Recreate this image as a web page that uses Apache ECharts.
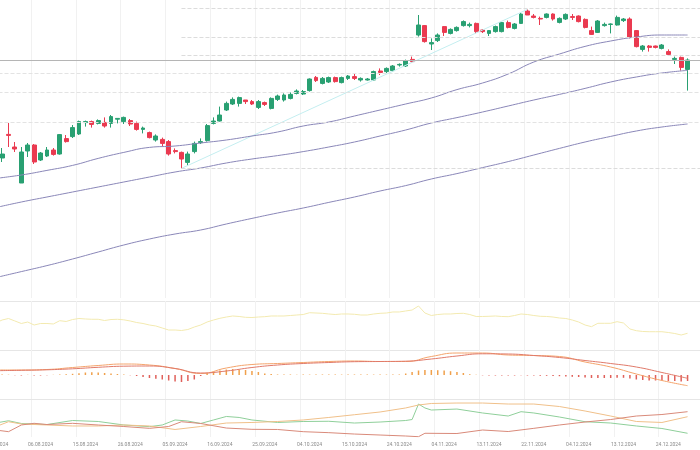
<!DOCTYPE html>
<html><head><meta charset="utf-8">
<script src="https://cdn.jsdelivr.net/npm/echarts@6/dist/echarts.min.js"></script>
<style>html,body{margin:0;padding:0;background:#fff}#c{width:700px;height:450px}</style>
</head><body><div id="c"></div>
<script>
const dates = ["26.07.2024","29.07.2024","30.07.2024","31.07.2024",
"01.08.2024","02.08.2024","05.08.2024","06.08.2024","07.08.2024","08.08.2024","09.08.2024","12.08.2024","13.08.2024","14.08.2024","15.08.2024","16.08.2024","19.08.2024","20.08.2024","21.08.2024","22.08.2024","23.08.2024","26.08.2024","27.08.2024","28.08.2024","29.08.2024","30.08.2024",
"03.09.2024","04.09.2024","05.09.2024","06.09.2024","09.09.2024","10.09.2024","11.09.2024","12.09.2024","13.09.2024","16.09.2024","17.09.2024","18.09.2024","19.09.2024","20.09.2024","23.09.2024","24.09.2024","25.09.2024","26.09.2024","27.09.2024","30.09.2024",
"01.10.2024","02.10.2024","03.10.2024","04.10.2024","07.10.2024","08.10.2024","09.10.2024","10.10.2024","11.10.2024","14.10.2024","15.10.2024","16.10.2024","17.10.2024","18.10.2024","21.10.2024","22.10.2024","23.10.2024","24.10.2024","25.10.2024","28.10.2024","29.10.2024","30.10.2024","31.10.2024",
"01.11.2024","04.11.2024","05.11.2024","06.11.2024","07.11.2024","08.11.2024","11.11.2024","12.11.2024","13.11.2024","14.11.2024","15.11.2024","18.11.2024","19.11.2024","20.11.2024","21.11.2024","22.11.2024","25.11.2024","26.11.2024","27.11.2024","29.11.2024",
"02.12.2024","03.12.2024","04.12.2024","05.12.2024","06.12.2024","09.12.2024","10.12.2024","11.12.2024","12.12.2024","13.12.2024","16.12.2024","17.12.2024","18.12.2024","19.12.2024","20.12.2024","23.12.2024","24.12.2024","26.12.2024","27.12.2024","30.12.2024",
"31.12.2024","02.01.2025","03.01.2025","06.01.2025"];

// [open, close, low, high]
const candles = [
[221,223,220,224],[221,223,219,226],[232.8,232.3,226.5,238.5],[226.5,225.5,224,229],
[208.5,224,208.5,226.5],[224.5,227.5,221.5,228.5],[227.5,219,218,228],[220,223.5,219.5,224],
[222,225,221.5,226.5],[225,222.8,222.2,226],[223,232.7,222.7,233],[230.7,229.2,228.7,232.5],
[231.7,236.2,231,237.5],[233,239.2,232.5,239.7],[238.7,239.2,236.7,239.7],[239.2,237.8,236.2,239.7],
[238.3,239.7,237.8,240.3],[238.8,237,236.2,241.3],[238.3,241.7,236.2,242.5],[240.4,240.8,238.3,240.8],
[239.2,241.3,238,241.7],[239.7,238,237,240.5],[238.3,235.3,234.7,239.2],[235.3,236,233.3,236.7],
[233.7,231.2,230.8,234.2],[230,232,229.2,232.8],[230.3,228.3,226.7,231.2],[229.2,223,222.2,230],
[224.7,224.2,223.3,225.8],[223.8,220.5,215.8,224.2],[218.8,223,217.2,224.2],[224.2,228.3,223.3,229.2],
[228.7,229.2,228,230.8],[229.7,237.2,229.2,238],[238.3,239.5,237.8,241.3],[239.5,242.5,239.2,246.7],
[245,248.3,244.5,249.2],[248,250.3,247.5,251.3],[248.3,251.2,246.7,251.7],[250,249.2,248,250],
[249.2,248,247.5,250],[246.3,249.2,245.5,250],[248.7,247.8,247,249.2],[245.8,250.8,245.3,251.3],
[250.3,252,249.5,252.7],[250,252.5,249.2,253.3],[250.8,252.8,250.3,254],[253.3,254.5,252.8,255.3],
[253,254.2,252.5,255],[254.7,260.5,254.2,260.8],[261.3,259.7,259,262],[258.3,260.8,257.8,261.5],
[259,261.2,258.5,261.7],[261.2,259.2,258.7,261.7],[258.7,261.2,258.3,261.7],[260.8,262,260,262.5],
[261.7,260.8,260,263],[260,260.8,259.2,261.3],[260,260.5,259.7,261],[260,264.2,259.5,264.7],
[264.5,263.8,262.5,265.8],[264.2,265.8,263.5,266.3],[264.7,267,264,267.5],[267.5,267.8,266.7,268.3],
[267,269.7,266.5,270.2],[270.3,269.2,268.7,271.7],[282.5,287.5,281.7,292.5],[287.2,279.2,278.7,287.5],
[278,278.7,275,280.8],[279.7,282.5,279,283.3],[286.7,283.8,282,287],[283.3,285.3,282.8,285.8],
[284.7,286.3,284.2,286.8],[287.2,289.2,286.7,289.8],[287.2,287.8,286.3,288.7],[288.3,284.2,283.3,288.7],
[285,284.2,283.5,285.5],[283.3,284.7,282,285],[284.2,286.7,283.7,287.2],[284.2,288.7,283.8,289],
[288.7,286.3,285.8,289.7],[285.8,288,285.3,288.5],[288.3,293,288,293.7],[294.5,292.5,292.5,295.3],
[292,291.3,290.8,293],[290.8,290.5,287.5,291.7],[291.3,293,290.8,293.3],[293,290.5,289.7,293.3],
[288.8,290.8,288.3,291.3],[290.5,292.8,290,293.3],[291.7,291.3,290,293],[292,289.2,288.8,292.3],
[290.3,286.3,285.8,290.8],[284.7,282.8,282.5,286.7],[283.8,289.5,283.5,290],[287.2,287.8,286.7,288.7],
[287.8,288,283.3,288.3],[287.5,291.3,287.2,292.2],[289.7,290.5,289,291],[290.5,281.3,280.8,291.3],
[284.7,276.7,276.3,285],[275.3,277,274.2,277.5],[277,276.3,274.2,277.5],[277,276.3,275.8,277.2],
[275.8,277.5,275.3,278],[274.2,272.8,272,275.3],[270.3,270.8,268,271.7],[271.3,266.3,264.7,271.7],
[265.3,270,254.7,270.8]];

const maIdx  = [0,4,8,12,16,20,24,28,32,36,40,44,48,52,56,60,64,68,72,76,80,84,88,92,96,100,104,108];
const maFast = [210.8,212.5,214.8,217.3,220.8,223.8,226.3,227,228.5,230,232,234,237,239,242,245,248,251,255.2,258.5,263,269,273,276.8,279.5,281.5,282.5,282.5];
const maMid  = [196.2,199,201.5,204,206.5,209,211.5,214,216,218.5,220.5,222.2,224.2,226.5,229,232,235,238.5,241.2,244,247,250,252.8,255.8,259,261.5,263.5,264.8];
const maSlow = [161.2,164.2,167.2,170.5,174,177.5,180.5,183,185,188,190.8,193.5,196,198.8,201.5,204.5,207.2,210.5,213.2,216.2,219.2,222.5,225.8,229,231.8,234.5,236.5,238];

const trendPts = [[29,215.8],[83,295.3]];
const fibLevels = [296,281.5,272.5,216];
const fullDashed = [263.5,254,239];
const priceLine = 270;

const rsi = [55.1,61.2,64.3,59.2,54.1,57.1,51,54.1,54.1,53.1,59.8,58.2,62.2,64.3,63.3,62.7,62.7,60.2,62.2,62.7,61.6,59.2,56.1,54.1,51,49,44.9,40.8,40.8,39.8,41.8,46.9,51,57.1,61.2,64.7,67.3,69.4,68.4,66.7,66.3,67.3,68,69.4,69.4,69.4,70.4,71.4,72.4,76.1,75.5,74.9,73.5,72.4,73.5,73.5,72.9,71.4,71.4,73.5,74.9,75.5,77.6,77.6,79.6,81.6,89.8,75.5,70.4,72.4,73.5,73.5,74.5,74.9,72.4,68.4,68.4,68.8,69.4,68.4,68,70.4,73.5,72.4,70.4,68.8,68.4,67.3,65.3,64.3,61.2,57.1,51,47.6,54.5,54.5,54.5,57.8,55.1,42.9,39.4,37.8,37.3,37.3,37.3,35.7,33.7,30.6,34.1];

const macdIdx = maIdx;
const macdLine = [0.5,0.5,0.55,0.75,0.95,1.1,1.0,0.65,0.15,0.7,1.05,1.15,1.25,1.35,1.4,1.35,1.35,1.85,2.2,2.2,2.0,1.95,1.85,1.3,0.8,0.1,-0.55,-1.07];
const signalLine = [0.43,0.47,0.52,0.62,0.77,0.88,0.9,0.65,0.2,0.4,0.75,1.0,1.15,1.25,1.33,1.35,1.38,1.6,1.9,2.12,2.1,1.95,1.75,1.45,1.15,0.8,0.25,-0.33];
const hist = [0.05,0.05,0.03,-0.02,-0.05,0.02,-0.05,-0.05,-0.03,0.02,0.05,0.08,0.12,0.18,0.25,0.27,0.25,0.2,0.15,0.1,0.05,-0.03,-0.1,-0.2,-0.3,-0.38,-0.45,-0.55,-0.65,-0.7,-0.6,-0.45,-0.1,0.2,0.35,0.45,0.55,0.6,0.55,0.5,0.4,0.3,0.15,0.1,0.05,0.04,0.05,0.03,0.05,0.04,0.05,0.05,0.04,0.05,0.04,0.05,0.05,0.04,0.05,0.04,0.05,0.04,0.05,0.05,0.15,0.3,0.45,0.5,0.5,0.48,0.45,0.38,0.3,0.2,0.08,0.02,-0.03,-0.05,-0.05,-0.04,-0.05,-0.05,-0.03,-0.05,-0.06,-0.08,-0.08,-0.1,-0.12,-0.15,-0.18,-0.2,-0.25,-0.3,-0.3,-0.3,-0.3,-0.28,-0.28,-0.35,-0.45,-0.5,-0.55,-0.55,-0.55,-0.6,-0.6,-0.65,-0.6];

const plusDI = [[0,18.4],[2,21.4],[4,17.8],[8,16.4],[12,21.7],[16,20.4],[20,15.8],[24,13.6],[26,15.8],[28,22.4],[30,21],[32,17.8],[34,22.4],[36,27],[38,25.7],[40,22.4],[44,19.1],[48,20.4],[52,20.7],[56,18.4],[60,19.7],[64,21.7],[65,23],[66,43.4],[67,38.2],[68,35.5],[72,36.8],[76,31.6],[80,27.6],[82,33.3],[84,31.6],[88,26.3],[92,20.1],[96,18.4],[100,14.5],[104,11.2],[108,4.9]];
const adx = [[0,13.6],[2,20.1],[4,17.1],[8,15.8],[12,14.5],[16,14.5],[20,15.8],[24,14.5],[28,9.9],[32,13.8],[36,18.4],[40,19.1],[44,20.4],[48,22.4],[52,25.7],[56,29.3],[60,32.9],[64,38.2],[66,42.1],[68,44.1],[72,44.7],[76,44.7],[80,43.4],[84,43.4],[88,40.1],[92,34.2],[96,27.6],[100,20.4],[104,19.1],[108,26.7]];
const minusDI = [[0,9.2],[2,7],[4,15.8],[6,18],[8,16.4],[12,18],[16,15.8],[20,13.8],[24,11.4],[27,13.8],[29,20.1],[32,17.8],[36,11.8],[40,10.1],[44,9.9],[48,7],[52,5.7],[56,3.9],[60,2.6],[64,1.3],[66,0.4],[67,4.9],[72,4.6],[76,9.2],[80,7.2],[84,11.4],[88,15.8],[92,19.7],[96,23],[100,27.6],[104,29.6],[108,33.3]];

const UP = '#29a072', DOWN = '#ea3a50', MA = '#8a87b8';
const chart = echarts.init(document.getElementById('c'), null, {renderer:'canvas'});
const G = {left:-7.5, right:-16.4, outerBoundsMode:'none', containLabel:false};
const grids = [
  Object.assign({top:0, height:298}, G),
  Object.assign({top:301, height:49}, G),
  Object.assign({top:350, height:49}, G),
  Object.assign({top:399, height:38}, G)
];
function xAx(k){
  return {type:'category', gridIndex:k, data:dates, boundaryGap:true,
    axisLine:{show:k===2, onZero:false, lineStyle:{color:'#e6e6e6', width:1}}, axisTick:{show:false},
    axisLabel:{show:k===3, interval:(i)=>i%7===0, fontSize:5, color:'#8a8a8a', margin:5, fontFamily:'Roboto', hideOverlap:false, showMinLabel:true, showMaxLabel:true},
    splitLine:{show:true, interval:(i)=>i%7===6, lineStyle:{color:'#f1f1f1', width:1}}};
}
function pairs(idx, vals){ return idx.map((x,j)=>[x, vals[j]]); }
const option = {
  animation:false,
  grid: grids,
  xAxis:[xAx(0),xAx(1),xAx(2),xAx(3)],
  yAxis:[
    {gridIndex:0, min:151, max:300, axisLabel:{show:false}, axisLine:{show:false}, axisTick:{show:false}, splitLine:{show:false}},
    {gridIndex:1, min:0, max:100, interval:100, axisLabel:{show:false}, axisLine:{show:false}, axisTick:{show:false}, splitLine:{show:true, lineStyle:{color:'#e6e6e6'}}},
    {gridIndex:2, min:-2.4, max:2.5, axisLabel:{show:false}, axisLine:{show:false}, axisTick:{show:false}, splitLine:{show:false}},
    {gridIndex:3, min:0, max:50, axisLabel:{show:false}, axisLine:{show:false}, axisTick:{show:false}, splitLine:{show:false}}
  ],
  series:[
    {type:'candlestick', xAxisIndex:0, yAxisIndex:0, data:candles, barWidth:4.4,
     itemStyle:{color:UP, color0:DOWN, borderColor:UP, borderColor0:DOWN, borderWidth:1},
     markLine:{silent:true, symbol:'none', label:{show:false},
       data:[
         {yAxis:priceLine, lineStyle:{color:'#b5b5b5', type:'solid', width:1}},
         ...fullDashed.map(v=>({yAxis:v, lineStyle:{color:'#e3e3e3', type:'dashed', width:1}})),
         ...fibLevels.map(v=>[{coord:[29,v], lineStyle:{color:'#dcdcdc', type:'dashed', width:1}},{coord:[112,v]}])
       ]}},
    {type:'line', xAxisIndex:0, yAxisIndex:0, data:trendPts, symbol:'none', lineStyle:{color:'#c4eef0', width:1}},
    {type:'line', xAxisIndex:0, yAxisIndex:0, data:pairs(maIdx,maFast), symbol:'none', smooth:true, lineStyle:{color:MA, width:1}},
    {type:'line', xAxisIndex:0, yAxisIndex:0, data:pairs(maIdx,maMid), symbol:'none', smooth:true, lineStyle:{color:MA, width:1}},
    {type:'line', xAxisIndex:0, yAxisIndex:0, data:pairs(maIdx,maSlow), symbol:'none', smooth:true, lineStyle:{color:MA, width:1}},
    {type:'line', xAxisIndex:1, yAxisIndex:1, data:rsi, symbol:'none', lineStyle:{color:'#f3eab0', width:1}},
    {type:'bar', xAxisIndex:2, yAxisIndex:2, data:hist, barWidth:1.5,
     itemStyle:{color:(p)=> p.value>=0 ? '#f0a04b' : '#e0605a'}},
    {type:'line', xAxisIndex:2, yAxisIndex:2, data:pairs(macdIdx,macdLine), symbol:'none', smooth:true, lineStyle:{color:'#f4a46c', width:1}},
    {type:'line', xAxisIndex:2, yAxisIndex:2, data:pairs(macdIdx,signalLine), symbol:'none', smooth:true, lineStyle:{color:'#e07a6a', width:1}},
    {type:'line', xAxisIndex:3, yAxisIndex:3, data:plusDI, symbol:'none', lineStyle:{color:'#8fcf9a', width:1}},
    {type:'line', xAxisIndex:3, yAxisIndex:3, data:adx, symbol:'none', lineStyle:{color:'#f0c08a', width:1}},
    {type:'line', xAxisIndex:3, yAxisIndex:3, data:minusDI, symbol:'none', lineStyle:{color:'#d98a7a', width:1}}
  ]
};
chart.setOption(option);
</script></body></html>
